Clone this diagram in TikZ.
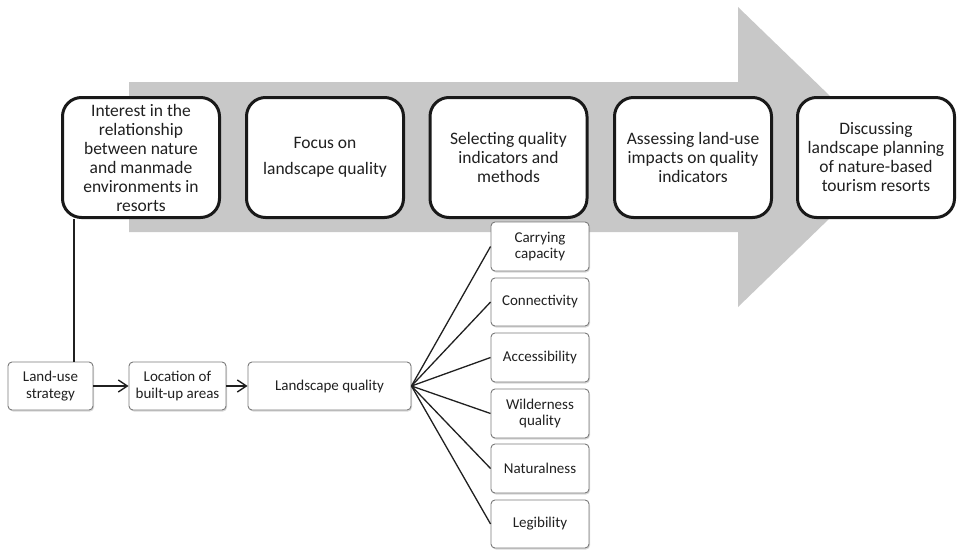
\documentclass[tikz,border=0pt]{standalone}
\usepackage{fontspec}
\setmainfont{Carlito}
\usetikzlibrary{arrows.meta,shadows,calc}
\definecolor{arrowgray}{HTML}{C8C8C8}
\definecolor{inkgray}{HTML}{202020}
\definecolor{framegray}{HTML}{7A7A7A}
\begin{document}
\begin{tikzpicture}[x=1pt,y=-1pt,
  stagebox/.style={draw=black!90, line width=3pt, fill=white, rounded corners=19pt,
    minimum width=157pt, minimum height=120pt, inner sep=0pt, align=center,
    text=inkgray, font=\fontsize{17.5}{19}\selectfont},
  itembox/.style={draw=framegray, line width=0.9pt, fill=white, rounded corners=4pt,
    inner sep=0pt, align=center, text=inkgray, font=\fontsize{15}{16.8}\selectfont,
    drop shadow={opacity=0.3, shadow xshift=1pt, shadow yshift=-1.5pt}},
  flow/.style={draw=inkgray, line width=1.4pt, -{Straight Barb[length=9pt,width=12pt,line width=1.4pt]}},
  fan/.style={draw=inkgray, line width=1.3pt}]
\useasboundingbox (0,0) rectangle (957,551);

% broad grey process arrow
\fill[arrowgray] (129,82) -- (738,82) -- (738,7) -- (893,157) -- (738,307)
  -- (738,232) -- (129,232) -- cycle;

% research stages
\node[stagebox] (s1) at (141,157.5) {Interest in the\\relationship\\between nature\\and manmade\\environments in\\resorts};
\node[stagebox] (s2) at (325,157.5) {Focus on\\[7pt]landscape quality};
\node[stagebox] (s3) at (508.5,157.5) {Selecting quality\\indicators and\\methods};
\node[stagebox] (s4) at (693,157.5) {Assessing land-use\\impacts on quality\\indicators};
\node[stagebox] (s5) at (876,157.5) {Discussing\\landscape planning\\of nature-based\\tourism resorts};

% causal chain
\node[itembox, minimum width=85pt, minimum height=48pt] (lu) at (50.5,386) {Land-use\\strategy};
\node[itembox, minimum width=97pt, minimum height=48pt] (loc) at (177.5,386) {Location of\\built-up areas};
\node[itembox, minimum width=163pt, minimum height=48pt] (lq) at (329.5,386) {Landscape quality};

% quality indicators
\node[itembox, minimum width=98pt, minimum height=49pt] (i1) at (540,246.5) {Carrying\\capacity};
\node[itembox, minimum width=98pt, minimum height=48pt] (i2) at (540,302) {Connectivity};
\node[itembox, minimum width=98pt, minimum height=49pt] (i3) at (540,357.5) {Accessibility};
\node[itembox, minimum width=98pt, minimum height=49pt] (i4) at (540,413.5) {Wilderness\\quality};
\node[itembox, minimum width=98pt, minimum height=49pt] (i5) at (540,468.5) {Naturalness};
\node[itembox, minimum width=98pt, minimum height=48pt] (i6) at (540,524) {Legibility};

% connectors
\coordinate (drop) at ([xshift=13pt]s1.south west);
\draw[draw=inkgray, line width=2pt] (drop) -- (drop |- lu.north);
\draw[flow] (lu) -- (loc);
\draw[flow] (loc) -- (lq);
\foreach \i in {i1,i2,i3,i4,i5,i6}
  \draw[fan] (lq.east) -- (\i.west);
\end{tikzpicture}
\end{document}
